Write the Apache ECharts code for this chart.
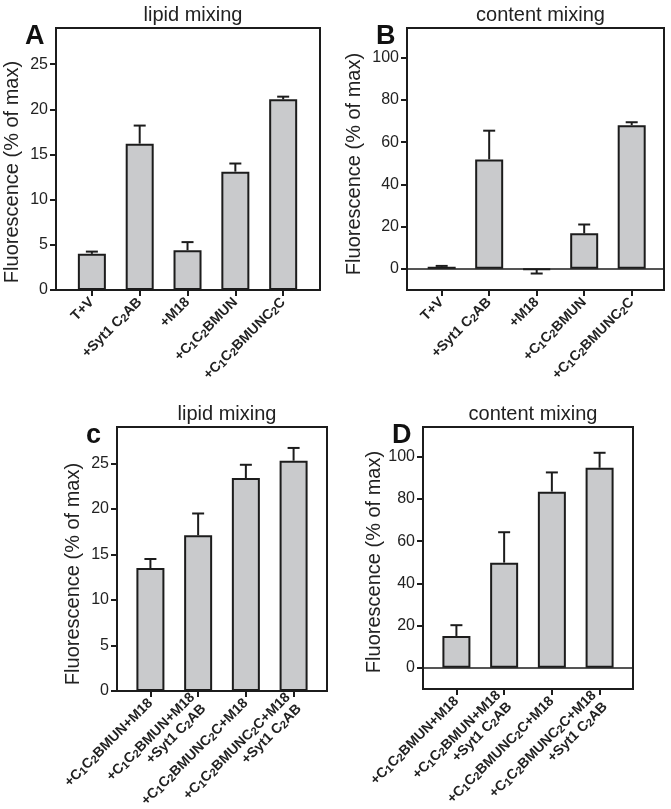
<!DOCTYPE html>
<html>
<head>
<meta charset="utf-8">
<script src="https://cdn.jsdelivr.net/npm/echarts@6/dist/echarts.min.js"></script>
<style>
html, body { margin: 0; padding: 0; background: #fff; }
#chart { width: 671px; height: 809px; }
</style>
</head>
<body>
<div id="chart"></div>
<script>
// top row (A, B): 5 conditions; {s|..} marks a subscript
const catsTop = ['T+V', '+Syt1 C{s|2}AB', '+M18', '+C{s|1}C{s|2}BMUN', '+C{s|1}C{s|2}BMUNC{s|2}C'];
const lipidTop = [4.0, 16.2, 4.4, 13.1, 21.1];
const lipidTopSd = [0.25, 2.0, 0.9, 0.9, 0.3];
const contentTop = [1.0, 51.8, -0.4, 16.8, 68.0];
const contentTopSd = [0.4, 13.6, 1.8, 4.2, 1.4];

// bottom row (c, D): 4 conditions
const catsBottom = ['+C{s|1}C{s|2}BMUN+M18', '+C{s|1}C{s|2}BMUN+M18\n+Syt1 C{s|2}AB',
    '+C{s|1}C{s|2}BMUNC{s|2}C+M18', '+C{s|1}C{s|2}BMUNC{s|2}C+M18\n+Syt1 C{s|2}AB'];
const lipidBottom = [13.5, 17.1, 23.4, 25.3];
const lipidBottomSd = [1.0, 2.4, 1.45, 1.4];
const contentBottom = [15.1, 49.8, 83.4, 94.7];
const contentBottomSd = [5.1, 14.4, 9.1, 7.1];

const lipidTicks = [0, 5, 10, 15, 20, 25];
const contentTicks = [0, 20, 40, 60, 80, 100];

const ink = '#1c1c1c';
const barFill = '#c9cacc';

const panels = [
    { letter: 'A', title: 'lipid mixing', grid: { left: 56, top: 28, width: 264, height: 262 },
      cats: catsTop, vals: lipidTop, sd: lipidTopSd, yMin: 0, yMax: 29, ticks: lipidTicks,
      xMin: -0.75, xMax: 4.77, nameGap: 34, namePad: 26, zero: false },
    { letter: 'B', title: 'content mixing', grid: { left: 407, top: 28, width: 257, height: 262 },
      cats: catsTop, vals: contentTop, sd: contentTopSd, yMin: -10, yMax: 114, ticks: contentTicks,
      xMin: -0.73, xMax: 4.68, nameGap: 43, namePad: 10, zero: true },
    { letter: 'c', title: 'lipid mixing', grid: { left: 117, top: 427, width: 210, height: 264 },
      cats: catsBottom, vals: lipidBottom, sd: lipidBottomSd, yMin: 0, yMax: 29, ticks: lipidTicks,
      xMin: -0.7, xMax: 3.7, nameGap: 34, namePad: 30, zero: false },
    { letter: 'D', title: 'content mixing', grid: { left: 423, top: 427, width: 210, height: 262 },
      cats: catsBottom, vals: contentBottom, sd: contentBottomSd, yMin: -10, yMax: 114, ticks: contentTicks,
      xMin: -0.7, xMax: 3.7, nameGap: 38, namePad: 8, zero: true }
];

const chart = echarts.init(document.getElementById('chart'));

let grids = [], xAxes = [], yAxes = [], series = [], titles = [];

panels.forEach(function (p, i) {
    const idx = p.cats.map(function (c, k) { return k; });
    const g = p.grid;

    grids.push(Object.assign({
        show: true, borderColor: ink, borderWidth: 2, backgroundColor: 'transparent',
        containLabel: false, outerBoundsMode: 'none'
    }, g));

    titles.push({
        text: p.title, left: g.left + g.width / 2, top: g.top - 28, textAlign: 'center',
        textStyle: { fontSize: 20, fontWeight: 'normal', color: '#222' }
    });
    titles.push({
        text: p.letter, left: g.left - 36, top: g.top - 10,
        textStyle: { fontSize: 27, fontWeight: 'bold', color: '#111' }
    });

    xAxes.push({
        type: 'value', gridIndex: i, min: p.xMin, max: p.xMax,
        axisLine: { show: false, onZero: false },
        splitLine: { show: false },
        axisTick: { show: true, customValues: idx, length: 6, lineStyle: { color: ink, width: 2 } },
        axisLabel: {
            customValues: idx, rotate: 45, margin: 10,
            fontSize: 14, fontWeight: 'bold', color: '#222', lineHeight: 16,
            formatter: function (v) { return p.cats[Math.round(v)]; },
            rich: {
                s: { fontSize: 11, fontWeight: 'bold', color: '#222', verticalAlign: 'bottom', lineHeight: 16, padding: [4, 0, 0, 0] }
            }
        }
    });

    yAxes.push({
        type: 'value', gridIndex: i, min: p.yMin, max: p.yMax,
        axisLine: { show: false, onZero: false },
        splitLine: { show: false },
        axisTick: { show: true, customValues: p.ticks, length: 6, lineStyle: { color: ink, width: 2 } },
        axisLabel: { customValues: p.ticks, fontSize: 16, color: '#222', margin: 8 },
        name: 'Fluorescence (% of max)', nameLocation: 'middle', nameGap: p.nameGap,
        nameTextStyle: { fontSize: 20, color: '#222', padding: [0, p.namePad, 0, 0] }
    });

    const bar = {
        type: 'bar', xAxisIndex: i, yAxisIndex: i, barWidth: 28,
        itemStyle: { color: barFill, borderColor: ink, borderWidth: 2 },
        data: p.vals.map(function (v, k) { return [k, v]; })
    };
    if (p.zero) {
        bar.markLine = {
            silent: true, symbol: 'none', label: { show: false },
            lineStyle: { color: ink, width: 1.5, type: 'solid' },
            data: [{ yAxis: 0 }]
        };
    }
    series.push(bar);

    // error bars, one side only, pointing away from zero
    series.push({
        type: 'custom', xAxisIndex: i, yAxisIndex: i, z: 5,
        data: p.vals.map(function (v, k) { return [k, v, v + (v < 0 ? -p.sd[k] : p.sd[k])]; }),
        renderItem: function (params, api) {
            const a = api.coord([api.value(0), api.value(1)]);
            const b = api.coord([api.value(0), api.value(2)]);
            const st = { stroke: ink, lineWidth: 2 };
            return {
                type: 'group',
                children: [
                    { type: 'line', shape: { x1: a[0], y1: a[1], x2: b[0], y2: b[1] }, style: st },
                    { type: 'line', shape: { x1: b[0] - 6, y1: b[1], x2: b[0] + 6, y2: b[1] }, style: st }
                ]
            };
        }
    });
});

chart.setOption({
    animation: false,
    backgroundColor: '#fff',
    textStyle: { fontFamily: 'Liberation Sans, Arial, sans-serif' },
    title: titles,
    grid: grids,
    xAxis: xAxes,
    yAxis: yAxes,
    series: series
});
</script>
</body>
</html>
